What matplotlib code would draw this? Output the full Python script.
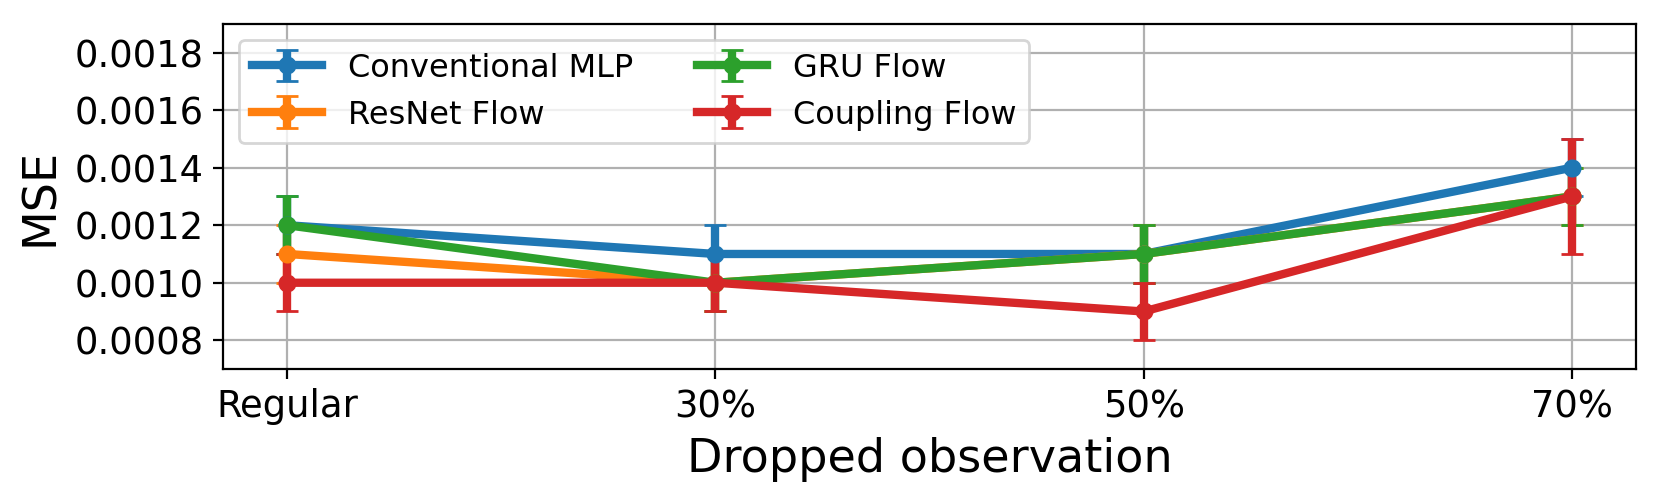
import numpy as np
import matplotlib
matplotlib.use("Agg")
import matplotlib.pyplot as plt

# dropped observation levels
labels = ["Regular", "30%", "50%", "70%"]

mlp = [0.0012, 0.0011, 0.0011, 0.0014]
mlp_err = [0.0001, 0.0001, 0.0001, 0.0001]
resnet = [0.0011, 0.0010, 0.0011, 0.0013]
resnet_err = [0.0001, 0.0001, 0.0001, 0.0001]
gru = [0.0012, 0.0010, 0.0011, 0.0013]
gru_err = [0.0001, 0.0001, 0.0001, 0.0001]
coupling = [0.0010, 0.0010, 0.0009, 0.0013]
coupling_err = [0.0001, 0.0001, 0.0001, 0.0002]

x = np.arange(len(labels))

fig = plt.figure(figsize=(8.305, 2.49), dpi=200)
ax = fig.add_axes([0.1343, 0.259, 0.8507, 0.693])

kw = dict(fmt="-o", lw=3, ms=5.5, capsize=4)
ax.errorbar(x, mlp, yerr=mlp_err, label="Conventional MLP", color="C0", **kw)
ax.errorbar(x, resnet, yerr=resnet_err, label="ResNet Flow", color="C1", **kw)
ax.errorbar(x, gru, yerr=gru_err, label="GRU Flow", color="C2", **kw)
ax.errorbar(x, coupling, yerr=coupling_err, label="Coupling Flow", color="C3", **kw)

ax.set_xticks(x)
ax.set_xticklabels(labels)
ax.set_yticks(np.arange(0.0008, 0.00181, 0.0002))
ax.set_ylim(0.0007, 0.0019)
ax.tick_params(labelsize=13.3)
ax.set_xlabel("Dropped observation", fontsize=16.6)
ax.set_ylabel("MSE", fontsize=16.6)
ax.grid(True)
ax.legend(loc="upper left", ncol=2, fontsize=11.5, handlelength=2.2)

fig.savefig("out.png", dpi=200)
